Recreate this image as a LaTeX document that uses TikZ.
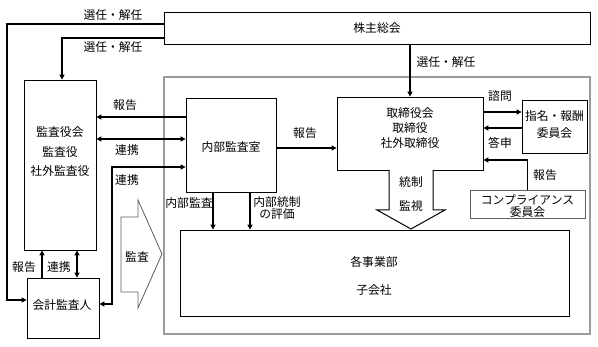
\documentclass[tikz,border=0pt]{standalone}
\usepackage{fontspec}
\usepackage{xcolor}
\usetikzlibrary{arrows.meta,calc}
\newfontfamily\jpfont{Noto Sans CJK JP}
\definecolor{Ink}{HTML}{000000}
\definecolor{FrameGray}{HTML}{9A9A9A}
\definecolor{EdgeGray}{HTML}{606060}
\tikzset{orgbox/.style={draw=Ink,line width=0.8pt,inner sep=0pt},txt/.style={inner sep=0pt,align=center,font=\jpfont\fontsize{11.8}{15}\selectfont},arrowline/.style={draw=Ink,line width=1.2pt,-{Triangle[length=5pt,width=5pt]}},dblline/.style={draw=Ink,line width=1.2pt,{Triangle[length=5pt,width=5pt]}-{Triangle[length=5pt,width=5pt]}},plainline/.style={draw=Ink,line width=1.2pt}}

\begin{document}
\begin{tikzpicture}[x=1pt,y=-1pt]
\useasboundingbox (0,0) rectangle (598,347);
\fill[white] (0,0) rectangle (598,347);
\draw[FrameGray,line width=1.3pt] (164,77) rectangle (590,334);
% boxes
\node[orgbox,minimum width=426pt,minimum height=32pt] (soukai) at (377,28) {};\node[txt] (soukaitxt) at (377,28) {株主総会};
\node[orgbox,minimum width=72pt,minimum height=170pt] (kansayaku) at (60,165) {};\node[txt,font=\jpfont\fontsize{11.8}{19.5}\selectfont] (kansatxt) at (60,152) {監査役会\\監査役\\社外監査役};
\node[orgbox,minimum width=72pt,minimum height=60pt] (kaikei) at (63,308) {};\node[txt] (kaikeitxt) at (62,305) {会計監査人};
\node[orgbox,minimum width=90pt,minimum height=94pt] (naibu) at (231,145) {};\node[txt] (naibutxt) at (231,147) {内部監査室};
\node[orgbox,minimum width=146pt,minimum height=73pt] (torishimari) at (410,133.5) {};\node[txt] (toritxt) at (410,128) {取締役会\\取締役\\社外取締役};
\node[orgbox,minimum width=65pt,minimum height=53pt] (shimei) at (554.5,126.5) {};\node[txt,font=\jpfont\fontsize{11.8}{17}\selectfont] (shimeitxt) at (554.5,124.5) {指名・報酬\\委員会};
\node[orgbox,draw=EdgeGray,minimum width=115pt,minimum height=28pt] (comp) at (527.5,204) {};\node[txt,font=\jpfont\fontsize{11.8}{12.5}\selectfont] (comptxt) at (527.5,206) {コンプライアンス\\委員会};
\node[orgbox,minimum width=389pt,minimum height=86pt] (jigyo) at (374.5,273) {};\node[txt,font=\jpfont\fontsize{11.8}{28}\selectfont] (jigyotxt) at (374,276) {各事業部\\子会社};
% block arrows
\draw[Ink,line width=1pt,fill=white] (389,170)--(389,210)--(377,210)--(411,229)--(445,210)--(433,210)--(433,170);
\node[txt] (tousei) at (411,182) {統制};\node[txt] (kanshi) at (411,206) {監視};
\draw[EdgeGray,line width=0.8pt,fill=white] (121,217)--(138,217)--(138,200)--(162,254)--(138,308)--(138,292)--(121,292)--cycle;
\node[txt] (kansa) at (137,257) {監査};
% connectors
\coordinate (lcorner) at (7,24);
\draw[arrowline] ([yshift=4pt]soukai.west) -- (lcorner) |- ([yshift=8pt]kaikei.west);
\draw[arrowline] ([yshift=-10pt]soukai.west) -| ([xshift=2pt]kansayaku.north);
\draw[arrowline] (torishimari.north |- soukai.south) -- (torishimari.north);
\draw[arrowline] ([yshift=28pt]naibu.west) -- ([yshift=28pt]naibu.west -| kansayaku.east);
\draw[dblline] ([yshift=6pt]naibu.west) -- ([yshift=6pt]naibu.west -| kansayaku.east);
\coordinate (renkei) at (112,167);
\draw[dblline] ([yshift=4pt]kaikei.east) -| (renkei) -- (renkei -| naibu.west);
\draw[arrowline] ([xshift=-18pt]naibu.south) -- ([xshift=-18pt]naibu.south |- jigyo.north);
\draw[arrowline] ([xshift=19pt]naibu.south) -- ([xshift=19pt]naibu.south |- jigyo.north);
\draw[arrowline] ([yshift=-3pt]naibu.east) -- ([yshift=-3pt]naibu.east -| torishimari.west);
\draw[arrowline] ([yshift=21.5pt]torishimari.east) -- ([yshift=21.5pt]torishimari.east -| shimei.west);
\draw[arrowline] ([yshift=-1.5pt]shimei.west) -- ([yshift=-1.5pt]shimei.west -| torishimari.east);
\draw[arrowline] (comp.north) |- ([yshift=-26.5pt]torishimari.east);
\draw[arrowline] ([xshift=-21pt]kaikei.north) -- ([xshift=-21pt]kaikei.north |- kansayaku.south);
\draw[dblline] ([xshift=14pt]kaikei.north) -- ([xshift=14pt]kaikei.north |- kansayaku.south);
% labels
\node[txt] (sennin1) at (113,15) {選任・解任};\node[txt] (sennin2) at (113,47) {選任・解任};\node[txt] (sennin3) at (446,62) {選任・解任};
\node[txt] (houkoku1) at (125,105) {報告};\node[txt] (renkei1) at (127,150) {連携};\node[txt] (renkei2) at (127,180) {連携};
\node[txt] (naibukansa) at (189,203) {内部監査};\node[txt,font=\jpfont\fontsize{11.8}{12}\selectfont] (hyouka) at (277,208) {内部統制\\の評価};
\node[txt] (houkoku2) at (305,133) {報告};\node[txt] (shimon) at (500,96) {諮問};\node[txt] (toushin) at (500,143) {答申};\node[txt] (houkoku3) at (545,175) {報告};
\node[txt] (houkoku4) at (24,267) {報告};\node[txt] (renkei3) at (59,267) {連携};
\end{tikzpicture}
\end{document}
